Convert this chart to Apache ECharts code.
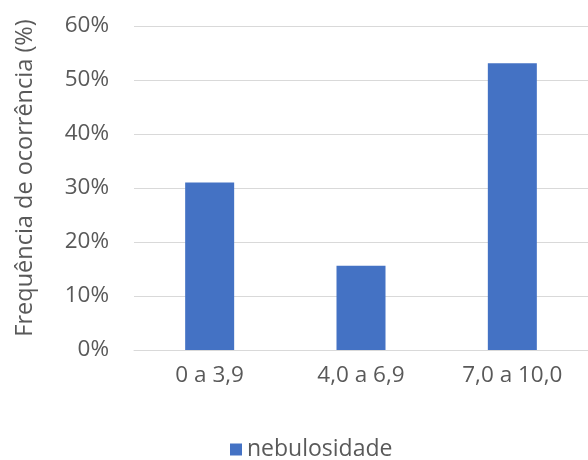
<!DOCTYPE html>
<html>
<head>
<meta charset="utf-8">
<script src="https://cdn.jsdelivr.net/npm/echarts@6/dist/echarts.min.js"></script>
<style>
  html, body { margin: 0; padding: 0; background: #fff; }
  #chart { width: 588px; height: 460px; }
</style>
</head>
<body>
<div id="chart"></div>
<script>
// Classes de nebulosidade e frequência de ocorrência (%)
const categories = ['0 a 3,9', '4,0 a 6,9', '7,0 a 10,0'];
const nebulosidade = [31, 15.6, 53.1];
const yTicks = [0, 10, 20, 30, 40, 50, 60];

const textColor = '#595959';
const font = 'Open Sans';
const fs = 22.5;

const chart = echarts.init(document.getElementById('chart'), null, { renderer: 'canvas' });
chart.setOption({
  animation: false,
  textStyle: { fontFamily: font },
  grid: { left: 134, right: -9, top: 26, bottom: 110, containLabel: false },
  legend: {
    data: ['nebulosidade'],
    bottom: -6,
    left: 225,
    icon: 'rect',
    itemWidth: 12,
    itemHeight: 12,
    itemGap: 5,
    textStyle: { color: textColor, fontSize: 23, fontFamily: font }
  },
  xAxis: {
    type: 'category',
    data: categories,
    axisLine: { show: true, lineStyle: { color: '#d9d9d9', width: 1 } },
    axisTick: { show: false },
    axisLabel: { color: textColor, fontSize: fs, margin: 14, fontFamily: font }
  },
  yAxis: {
    type: 'value',
    min: yTicks[0],
    max: yTicks[yTicks.length - 1],
    interval: 10,
    name: 'Frequência de ocorrência (%)',
    nameLocation: 'middle',
    nameGap: 97,
    nameRotate: 90,
    nameTextStyle: { color: textColor, fontSize: 23.5, fontFamily: font, padding: [0, 0, 0, 20] },
    axisLine: { show: false },
    axisTick: { show: false },
    splitLine: { lineStyle: { color: '#d9d9d9', width: 1 } },
    axisLabel: { color: textColor, fontSize: fs, margin: 25, formatter: v => v + '%', fontFamily: font }
  },
  series: [{
    name: 'nebulosidade',
    type: 'bar',
    data: nebulosidade,
    barWidth: 49,
    itemStyle: { color: '#4472C4' }
  }]
});
</script>
</body>
</html>
